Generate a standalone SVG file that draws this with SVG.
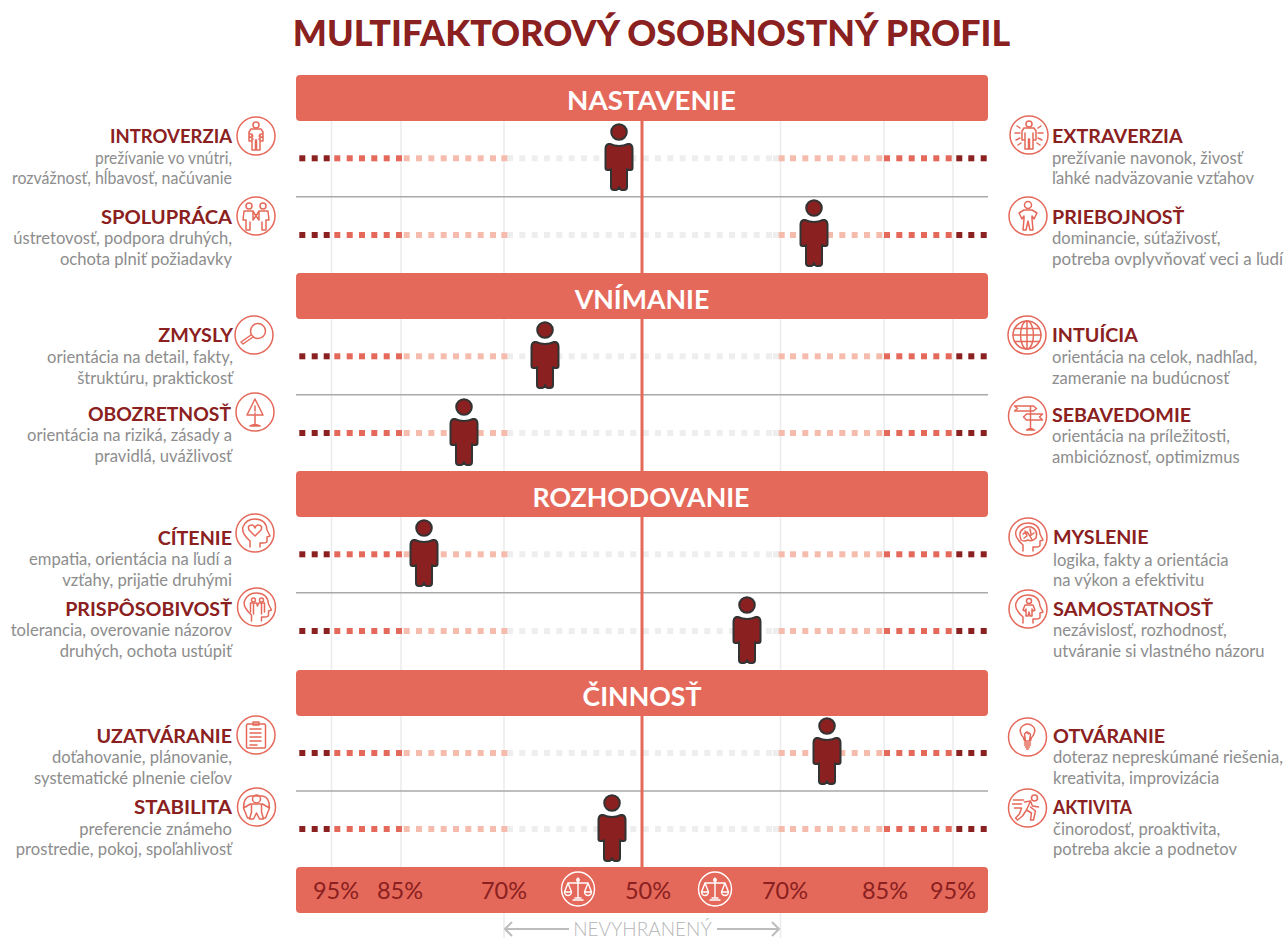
<svg xmlns="http://www.w3.org/2000/svg" xmlns:xlink="http://www.w3.org/1999/xlink" width="1286" height="938" viewBox="0 0 1286 938">
<style>
text{font-family:"Lato","Liberation Sans",sans-serif}
.title{font-size:35.9px;font-weight:900;fill:#8a2020;text-anchor:middle}
.hdr{font-size:26.7px;font-weight:700;fill:#fff;text-anchor:middle}
.band{fill:#e5695a}
.n{font-size:19.7px;font-weight:700;fill:#8a2020}
.d{font-size:16.6px;fill:#8d8d8d}
.l{text-anchor:end}
.pct{font-size:23.5px;fill:#8a2020;text-anchor:middle}
.grid{stroke:#ececec;stroke-width:1.5}
.sep{stroke:#a9a9a9;stroke-width:1.5}
.ic{fill:none;stroke:#e5695a;stroke-width:1.5;stroke-linecap:round;stroke-linejoin:round}
.wh{fill:none;stroke:#fff;stroke-width:1.4;stroke-linecap:round;stroke-linejoin:round}
.arr{fill:none;stroke:#bdbdbd;stroke-width:2}
.a{fill:#8a2020}.b{fill:#e5695a}.c{fill:#f5bcae}.g{fill:#eeeeee}
</style>
<defs>
<g id="dots">
<g class="g"><rect x="507" y="-3" width="6" height="6"/><rect x="519.3" y="-3" width="6" height="6"/><rect x="531.7" y="-3" width="6" height="6"/><rect x="544" y="-3" width="6" height="6"/><rect x="556.3" y="-3" width="6" height="6"/><rect x="568.7" y="-3" width="6" height="6"/><rect x="581" y="-3" width="6" height="6"/><rect x="593.3" y="-3" width="6" height="6"/><rect x="605.7" y="-3" width="6" height="6"/><rect x="618" y="-3" width="6" height="6"/><rect x="630.3" y="-3" width="6" height="6"/><rect x="642.7" y="-3" width="6" height="6"/><rect x="655" y="-3" width="6" height="6"/><rect x="667.3" y="-3" width="6" height="6"/><rect x="679.7" y="-3" width="6" height="6"/><rect x="692" y="-3" width="6" height="6"/><rect x="704.3" y="-3" width="6" height="6"/><rect x="716.7" y="-3" width="6" height="6"/><rect x="729" y="-3" width="6" height="6"/><rect x="741.3" y="-3" width="6" height="6"/><rect x="753.7" y="-3" width="6" height="6"/><rect x="766" y="-3" width="6" height="6"/><rect x="773" y="-3" width="6" height="6"/></g>
<g class="c"><rect x="403.7" y="-3" width="6" height="6"/><rect x="416" y="-3" width="6" height="6"/><rect x="428.3" y="-3" width="6" height="6"/><rect x="440.7" y="-3" width="6" height="6"/><rect x="453" y="-3" width="6" height="6"/><rect x="465.3" y="-3" width="6" height="6"/><rect x="477.7" y="-3" width="6" height="6"/><rect x="490" y="-3" width="6" height="6"/><rect x="501.3" y="-3" width="6" height="6"/><rect x="778.7" y="-3" width="6" height="6"/><rect x="790" y="-3" width="6" height="6"/><rect x="802.3" y="-3" width="6" height="6"/><rect x="814.7" y="-3" width="6" height="6"/><rect x="827" y="-3" width="6" height="6"/><rect x="839.3" y="-3" width="6" height="6"/><rect x="851.7" y="-3" width="6" height="6"/><rect x="864" y="-3" width="6" height="6"/><rect x="876.3" y="-3" width="6" height="6"/></g>
<g class="b"><rect x="334.3" y="-3" width="6" height="6"/><rect x="346.7" y="-3" width="6" height="6"/><rect x="359" y="-3" width="6" height="6"/><rect x="371.3" y="-3" width="6" height="6"/><rect x="383.7" y="-3" width="6" height="6"/><rect x="396" y="-3" width="6" height="6"/><rect x="884" y="-3" width="6" height="6"/><rect x="896.3" y="-3" width="6" height="6"/><rect x="908.7" y="-3" width="6" height="6"/><rect x="921" y="-3" width="6" height="6"/><rect x="933.3" y="-3" width="6" height="6"/><rect x="945.7" y="-3" width="6" height="6"/></g>
<g class="a"><rect x="299.3" y="-3" width="6" height="6"/><rect x="311.7" y="-3" width="6" height="6"/><rect x="323.7" y="-3" width="6" height="6"/><rect x="956.3" y="-3" width="6" height="6"/><rect x="968.3" y="-3" width="6" height="6"/><rect x="980.7" y="-3" width="6" height="6"/></g>
</g>
<g id="person">
<circle cx="0" cy="0" r="7.800" fill="#8a2020" stroke="#333" stroke-width="2"/>
<path d="M-9,12 Q0,16 9,12 L10.500,12 Q13.500,13 13.500,17 L13.500,36 Q13.500,38 11.500,38 L9,38 L8,37 L8,55 Q8,58 5,58 L3,58 Q1,58 0,55 Q-1,58 -3,58 L-5,58 Q-8,58 -8,55 L-8,37 L-9,38 L-11.500,38 Q-13.500,38 -13.500,36 L-13.500,17 Q-13.500,13 -10.500,12 Z" fill="#8a2020" stroke="#333" stroke-width="2" stroke-linejoin="round"/>
</g>
<g id="scales">
<ellipse cx="0" cy="0" rx="16.5" ry="17"/>
<path d="M0,-11V9M-5,11H5M-3,9H3M-10,-6H10M-10,-6L-13.5,3M-10,-6L-6.5,3M10,-6L6.5,3M10,-6L13.5,3M-13.5,3A3.5,3.5 0 0 0 -6.5,3ZM6.5,3A3.5,3.5 0 0 0 13.5,3Z"/>
<circle cx="0" cy="-9" r="1.3"/>
</g>
</defs>
<rect width="1286" height="938" fill="#fff"/>
<text class="title" x="651.500" y="46">MULTIFAKTOROVÝ OSOBNOSTNÝ PROFIL</text>

<g id="grid">
<path class="grid" d="M331.5,120V867M401,120V867M504,120V938M780.5,120V938M884,120V867M953,120V867"/>
</g>
<g id="rows">
<use xlink:href="#dots" href="#dots" y="158.3"/>
<use xlink:href="#dots" href="#dots" y="235"/>
<use xlink:href="#dots" href="#dots" y="356.3"/>
<use xlink:href="#dots" href="#dots" y="433"/>
<use xlink:href="#dots" href="#dots" y="554.3"/>
<use xlink:href="#dots" href="#dots" y="631"/>
<use xlink:href="#dots" href="#dots" y="753"/>
<use xlink:href="#dots" href="#dots" y="829"/>
</g>
<g id="connectors">
<path class="sep" d="M296,196.7H988M296,394.7H988M296,592.7H988M296,791H988"/>
<path d="M642,120V867" stroke="#e5695a" stroke-width="3" fill="none"/>
<path class="arr" d="M505,929H569M512,922L505,929L512,936M717,929H779M772,922L779,929L772,936"/>
</g>

<g id="band-nastavenie"><rect class="band" x="296" y="75" width="692" height="46" rx="4"/><text class="hdr" x="651.500" y="110" textLength="169" lengthAdjust="spacingAndGlyphs">NASTAVENIE</text></g>
<g id="band-vnimanie"><rect class="band" x="296" y="273" width="692" height="46" rx="4"/><text class="hdr" x="642" y="309">VNÍMANIE</text></g>
<g id="band-rozhodovanie"><rect class="band" x="296" y="471" width="692" height="46" rx="4"/><text class="hdr" x="641" y="507">ROZHODOVANIE</text></g>
<g id="band-cinnost"><rect class="band" x="296" y="670" width="692" height="46" rx="4"/><text class="hdr" x="642" y="706">ČINNOSŤ</text></g>
<g id="band-scale">
<rect class="band" x="296" y="867" width="692" height="46" rx="4"/>
<text class="pct" x="336" y="899">95%</text><text class="pct" x="400" y="899">85%</text><text class="pct" x="504" y="899">70%</text><text class="pct" x="648" y="899">50%</text><text class="pct" x="785" y="899">70%</text><text class="pct" x="885" y="899">85%</text><text class="pct" x="953" y="899">95%</text>
<use xlink:href="#scales" href="#scales" class="wh" x="578" y="889"/>
<use xlink:href="#scales" href="#scales" class="wh" x="715" y="889"/>
</g>
<text id="nevyhraneny" x="642.5" y="936" text-anchor="middle" style="font-size:19px;fill:#b5b5b5;font-weight:300">NEVYHRANENÝ</text>

<g id="people">
<use xlink:href="#person" href="#person" x="619" y="132"/>
<use xlink:href="#person" href="#person" x="814" y="208"/>
<use xlink:href="#person" href="#person" x="545" y="330"/>
<use xlink:href="#person" href="#person" x="464" y="407"/>
<use xlink:href="#person" href="#person" x="424" y="528"/>
<use xlink:href="#person" href="#person" x="747" y="605"/>
<use xlink:href="#person" href="#person" x="827" y="726"/>
<use xlink:href="#person" href="#person" x="612" y="803"/>
</g>

<g id="introverzia"><text class="n l" x="232" y="143" textLength="122" lengthAdjust="spacingAndGlyphs">INTROVERZIA</text><text class="d l" x="232" y="164" textLength="137" lengthAdjust="spacingAndGlyphs">prežívanie vo vnútri,</text><text class="d l" x="232" y="184" textLength="220" lengthAdjust="spacingAndGlyphs">rozvážnosť, hĺbavosť, načúvanie</text>
<g class="ic" transform="translate(256,136)"><circle r="19"/><circle cy="-11" r="3"/><path d="M-5,-7H5L7,-4V5H4V-2M-5,-7L-7,-4V5H-4V-2M-4,-2V14H-.5V4H.5V14H4V-2M-7,0L-3,3M7,0L3,3M-7,-3L-3,0M7,-3L3,0"/></g></g>

<g id="spolupraca"><text class="n l" x="232" y="224" textLength="131" lengthAdjust="spacingAndGlyphs">SPOLUPRÁCA</text><text class="d l" x="232" y="244">ústretovosť, podpora druhých,</text><text class="d l" x="232" y="265">ochota plniť požiadavky</text>
<g class="ic" transform="translate(256,216)"><circle r="19"/><circle cx="-7" cy="-10" r="3"/><circle cx="7" cy="-10" r="3"/><path d="M-12,-5H-3L0,0L3,-5H12L13,4H10V14H6V6M-12,-5L-13,4H-10V14H-6V6M-3,-5L-3,4M3,-5L3,4M-3,4L0,0L3,4"/></g></g>

<g id="zmysly"><text class="n l" x="233" y="342">ZMYSLY</text><text class="d l" x="233" y="363">orientácia na detail, fakty,</text><text class="d l" x="233" y="384">štruktúru, praktickosť</text>
<g class="ic" transform="translate(254,335)"><circle r="19"/><circle cx="4" cy="-4" r="7.5"/><path d="M-1,2L-11,9L-13,7L-3,0"/></g></g>

<g id="obozretnost"><text class="n l" x="231" y="421" textLength="143" lengthAdjust="spacingAndGlyphs">OBOZRETNOSŤ</text><text class="d l" x="232" y="441">orientácia na riziká, zásady a</text><text class="d l" x="232" y="462">pravidlá, uvážlivosť</text>
<g class="ic" transform="translate(255,412)"><circle r="19"/><path d="M0,-13L8,3H-8ZM0,-6V-1M0,1V1.5M0,3V13M-5,14Q0,11 5,14Z"/></g></g>

<g id="citenie"><text class="n l" x="232" y="545">CÍTENIE</text><text class="d l" x="232" y="565">empatia, orientácia na ľudí a</text><text class="d l" x="232" y="586">vzťahy, prijatie druhými</text>
<g class="ic" transform="translate(255,533)"><circle r="19"/><path d="M-5,14V8Q-14,0 -12,-6Q-9,-14 0,-14Q11,-14 12,-3L15,3L12,4V8Q12,10 8,10H5V14"/><path d="M0,3L-6,-3Q-8,-8 -3,-8Q-1,-8 0,-5Q1,-8 3,-8Q8,-8 6,-3Z"/></g></g>

<g id="prisposobivost"><text class="n l" x="232" y="616">PRISPÔSOBIVOSŤ</text><text class="d l" x="232" y="636">tolerancia, overovanie názorov</text><text class="d l" x="232" y="657">druhých, ochota ustúpiť</text>
<g class="ic" transform="translate(256.500,607)"><circle r="19"/><path d="M-5,14V8Q-14,0 -12,-6Q-9,-14 0,-14Q11,-14 12,-3L15,3L12,4V8Q12,10 8,10H5V14"/><circle cx="-3" cy="-7" r="2"/><circle cx="5" cy="-7" r="2"/><path d="M-6,5V-4H0L1,-1L2,-4H8V5M-3,-4V7M5,-4V7"/></g></g>

<g id="uzatvaranie"><text class="n l" x="232" y="743">UZATVÁRANIE</text><text class="d l" x="232" y="763">doťahovanie, plánovanie,</text><text class="d l" x="232" y="784">systematické plnenie cieľov</text>
<g class="ic" transform="translate(256,735)"><circle r="19"/><rect x="-9.500" y="-11" width="19" height="24" rx="1"/><rect x="-3" y="-13" width="6" height="3"/><path d="M-6,-6H5M-6,-2H5M-6,2H5M-6,6H5M-6,10H1"/></g></g>

<g id="stabilita"><text class="n l" x="232" y="814" textLength="98" lengthAdjust="spacingAndGlyphs">STABILITA</text><text class="d l" x="232" y="835">preferencie známeho</text><text class="d l" x="232" y="855">prostredie, pokoj, spoľahlivosť</text>
<g class="ic" transform="translate(256.500,807)"><circle r="19"/><circle cy="-8" r="4"/><path d="M-13,1Q-13,-10 -6,-11M13,1Q13,-10 6,-11M-6,-11H6M-13,1L-6,-3H6L13,1M-5,-3V5L-7,12H-3L0,6L3,12H7L5,5V-3M-13,1L-9,11H-7M13,1L9,11H7"/></g></g>

<g id="extraverzia"><text class="n" x="1052" y="143">EXTRAVERZIA</text><text class="d" x="1052" y="164">prežívanie navonok, živosť</text><text class="d" x="1052" y="184">ľahké nadväzovanie vzťahov</text>
<g class="ic" transform="translate(1029,135)"><circle r="19"/><circle cy="-11" r="3"/><path d="M-5,-7H5L7,-4V5H4V-2M-5,-7L-7,-4V5H-4V-2M-4,-2V14H-.5V4H.5V14H4V-2M-9,-7L-12,-9M9,-7L12,-9M-9,-2L-14,-2M9,-2L14,-2M-9,3L-13,5M9,3L13,5M-8,8L-11,10M8,8L11,10"/></g></g>

<g id="priebojnost"><text class="n" x="1052" y="224">PRIEBOJNOSŤ</text><text class="d" x="1052" y="244">dominancie, súťaživosť,</text><text class="d" x="1052" y="265" textLength="231" lengthAdjust="spacingAndGlyphs">potreba ovplyvňovať veci a ľudí</text>
<g class="ic" transform="translate(1028,216)"><circle r="19"/><circle cy="-11" r="3.500"/><path d="M-4,-6H4L9,-3L6,3L4,0V3L5,14H2L0,5L-2,14H-5L-4,3V0L-6,3L-9,-3Z"/></g></g>

<g id="intuicia"><text class="n" x="1052" y="342">INTUÍCIA</text><text class="d" x="1052" y="363">orientácia na celok, nadhľad,</text><text class="d" x="1052" y="384">zameranie na budúcnosť</text>
<g class="ic" transform="translate(1027,335)"><circle r="19"/><circle r="14"/><ellipse rx="6.500" ry="14"/><path d="M0,-14V14M-14,0H14M-12.500,-6.500H12.500M-12.500,6.500H12.500"/></g></g>

<g id="sebavedomie"><text class="n" x="1052" y="422">SEBAVEDOMIE</text><text class="d" x="1052" y="442">orientácia na príležitosti,</text><text class="d" x="1052" y="463">ambicióznosť, optimizmus</text>
<g class="ic" transform="translate(1027.500,416)"><circle r="19"/><path d="M-13,-10H6L9,-7.500L6,-5H-13L-10,-7.500ZM15,-2H-1L-4,1L-1,4H15L12,1ZM3,-10V13M-1,14Q3,11 7,14Z"/></g></g>

<g id="myslenie"><text class="n" x="1053" y="544">MYSLENIE</text><text class="d" x="1053" y="566">logika, fakty a orientácia</text><text class="d" x="1053" y="586">na výkon a efektivitu</text>
<g class="ic" transform="translate(1028,537)"><circle r="19"/><path d="M-5,14V8Q-14,0 -12,-6Q-9,-14 0,-14Q11,-14 12,-3L15,3L12,4V8Q12,10 8,10H5V14"/><path d="M-7,3Q-10,-5 -5,-8Q0,-12 5,-9Q10,-6 8,1Q4,5 0,3Q-4,5 -7,3ZM-5,-3L-1,-5L2,-1L6,-4M-3,-6L-1,-1L-4,1M2,-8L3,-3M2,-1L4,3"/></g></g>

<g id="samostatnost"><text class="n" x="1053" y="616" textLength="160" lengthAdjust="spacingAndGlyphs">SAMOSTATNOSŤ</text><text class="d" x="1053" y="636">nezávislosť, rozhodnosť,</text><text class="d" x="1053" y="657">utváranie si vlastného názoru</text>
<g class="ic" transform="translate(1028,609)"><circle r="19"/><path d="M-5,14V8Q-14,0 -12,-6Q-9,-14 0,-14Q11,-14 12,-3L15,3L12,4V8Q12,10 8,10H5V14"/><circle cx="1" cy="-8" r="2.500"/><path d="M-3,-4H5L7,1L5,2L4,0V7H2L1,3L0,7H-2V0L-3,2L-5,1Z"/></g></g>

<g id="otvaranie"><text class="n" x="1053" y="743">OTVÁRANIE</text><text class="d" x="1053" y="763">doteraz nepreskúmané riešenia,</text><text class="d" x="1053" y="784">kreativita, improvizácia</text>
<g class="ic" transform="translate(1027.500,737)"><circle r="19"/><path d="M-3,4Q-3,1 -6,-2Q-9,-8 -5,-11Q0,-15 5,-11Q9,-8 6,-2Q3,1 3,4ZM-3,6H3M-3,8H3M-2,10H2M-1,12H1M-2,4L-3,-3L-1,-5L1,-3L0,-5L3,-3L2,4"/></g></g>

<g id="aktivita"><text class="n" x="1053" y="814" textLength="79" lengthAdjust="spacingAndGlyphs">AKTIVITA</text><text class="d" x="1053" y="835">činorodosť, proaktivita,</text><text class="d" x="1053" y="855">potreba akcie a podnetov</text>
<g class="ic" transform="translate(1027.500,808)"><circle r="19"/><circle cx="7" cy="-10" r="3"/><path d="M-14,-8H-4M-15,-4H-6M-13,0H-7M-3,-6L3,-7L5,-2L11,-1M3,-7L-1,2L4,5L3,12H6L8,3L3,-1M-1,2L-5,8L-10,12L-12,10L-8,6L-6,0"/></g></g>
</svg>
